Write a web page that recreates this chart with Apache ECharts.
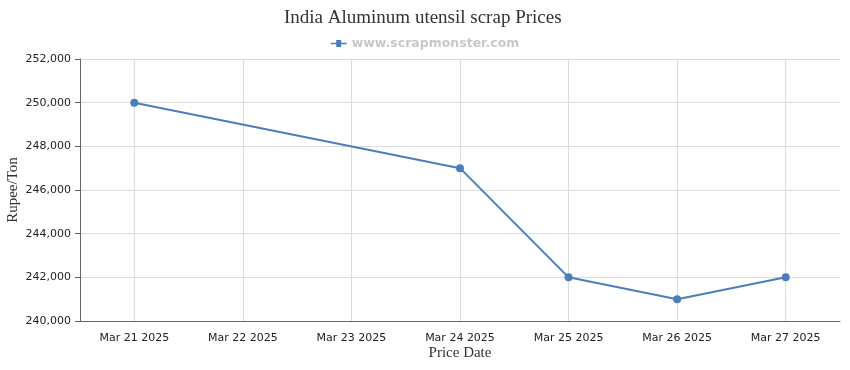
<!DOCTYPE html>
<html><head><meta charset="utf-8">
<script src="https://cdn.jsdelivr.net/npm/echarts@6/dist/echarts.min.js"></script>
<style>html,body{margin:0;padding:0;background:#fff}#c{width:850px;height:370px}</style>
</head><body><div id="c"></div>
<script>
const categories = ['Mar 21 2025','Mar 22 2025','Mar 23 2025','Mar 24 2025','Mar 25 2025','Mar 26 2025','Mar 27 2025'];
const prices = [250000, null, null, 247000, 242000, 241000, 242000];
const yMin = 240000, yMax = 252000, yStep = 2000;
const chart = echarts.init(document.getElementById('c'));
chart.setOption({
  animation: false,
  title: {
    text: 'India Aluminum utensil scrap Prices',
    left: 279, top: 4,
    textStyle: {fontFamily: 'Liberation Serif', fontSize: 19, fontWeight: 'normal', color: '#333'}
  },
  legend: {
    top: 32, left: 'center',
    itemWidth: 16, itemHeight: 8, itemGap: 5,
    data: [{name: 'www.scrapmonster.com', icon: 'path://M0,3.2 L5.5,3.2 L5.5,0.5 L10.5,0.5 L10.5,3.2 L16,3.2 L16,4.8 L10.5,4.8 L10.5,7.5 L5.5,7.5 L5.5,4.8 L0,4.8 Z'}],
    textStyle: {fontFamily: 'DejaVu Sans', fontSize: 12.5, fontWeight: 'bold', color: '#c8c8c8'}
  },
  grid: {left: 80, right: 10, top: 59, bottom: 49, containLabel: false, outerBoundsMode: 'none'},
  xAxis: {
    type: 'category', data: categories, boundaryGap: true,
    name: 'Price Date', nameLocation: 'middle', nameGap: 25, nameMoveOverlap: false,
    nameTextStyle: {fontFamily: 'Liberation Serif', fontSize: 15, color: '#333'},
    axisLine: {lineStyle: {color: '#666'}},
    axisTick: {alignWithLabel: true, length: 5, lineStyle: {color: '#666'}},
    axisLabel: {interval: 0, fontFamily: 'DejaVu Sans', fontSize: 11, color: '#222', margin: 12},
    splitLine: {show: true, alignWithLabel: true, lineStyle: {color: '#dcdcdc'}}
  },
  yAxis: {
    type: 'value', min: yMin, max: yMax, interval: yStep,
    name: 'Rupee/Ton', nameLocation: 'middle', nameGap: 59, nameMoveOverlap: false,
    nameTextStyle: {fontFamily: 'Liberation Serif', fontSize: 15, color: '#333'},
    axisLine: {show: true, lineStyle: {color: '#666'}},
    axisTick: {show: true, length: 5, lineStyle: {color: '#666'}},
    axisLabel: {fontFamily: 'DejaVu Sans', fontSize: 11, color: '#222', margin: 9,
      formatter: v => v.toLocaleString('en-US')},
    splitLine: {lineStyle: {color: '#dcdcdc'}}
  },
  series: [{
    name: 'www.scrapmonster.com', type: 'line', data: prices, connectNulls: true,
    symbol: 'circle', symbolSize: 8,
    lineStyle: {color: '#4a7ebb', width: 2},
    itemStyle: {color: '#4a7ebb'}
  }]
});
</script></body></html>
